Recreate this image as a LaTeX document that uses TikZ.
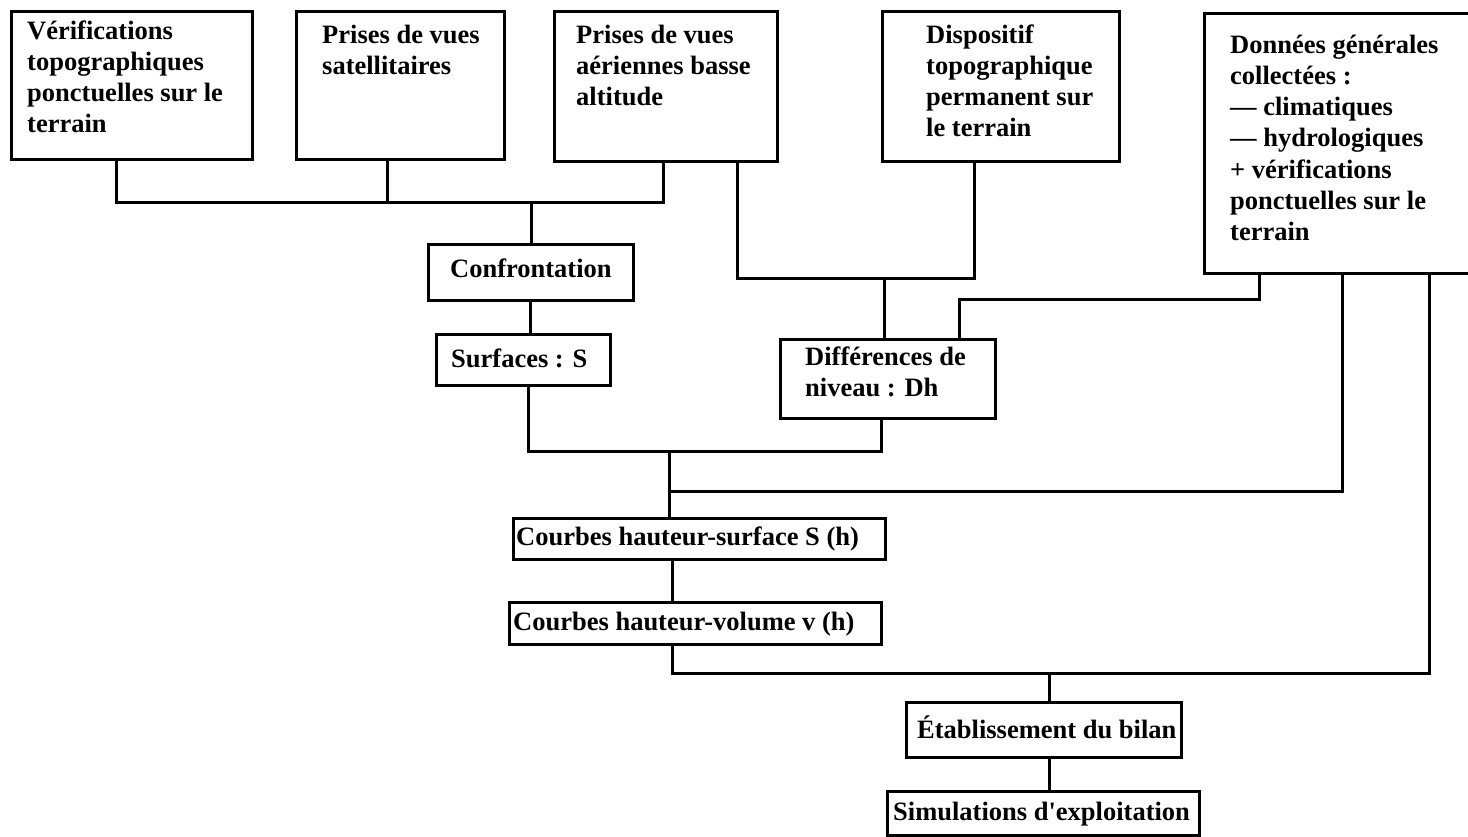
\documentclass[tikz,border=0pt]{standalone}
\usepackage{fontspec}
\setmainfont{Liberation Serif}
\begin{document}
\begin{tikzpicture}[x=1pt,y=-1pt,
  box/.style={draw, line width=3pt, rectangle, inner sep=0pt, anchor=north west},
  txt/.style={inner sep=0pt, anchor=base west, font=\fontsize{26.5}{31.3}\selectfont\bfseries},
  conn/.style={line width=3pt}]
\useasboundingbox (0,0) rectangle (1468,836);
\clip (0,0) rectangle (1468,836);
\fill[white] (0,0) rectangle (1468,836);
% boxes
\node[box, minimum width=241pt, minimum height=148pt] (A) at (10,10) {};
\node[box, minimum width=208pt, minimum height=148pt] (B) at (295,10) {};
\node[box, minimum width=223pt, minimum height=150pt] (C) at (553,10) {};
\node[box, minimum width=237pt, minimum height=150pt] (D) at (881,10) {};
\node[box, minimum width=290pt, minimum height=260pt] (E) at (1203,12) {};
\node[box, minimum width=205pt, minimum height=56pt] (F) at (427,243) {};
\node[box, minimum width=174pt, minimum height=51pt] (G) at (435,333) {};
\node[box, minimum width=215pt, minimum height=79pt] (H) at (779,338) {};
\node[box, minimum width=372pt, minimum height=41pt] (I) at (512,517) {};
\node[box, minimum width=372pt, minimum height=42pt] (J) at (508,601) {};
\node[box, minimum width=275pt, minimum height=55pt] (K) at (905,701) {};
\node[box, minimum width=312pt, minimum height=44pt] (L) at (886,790) {};
% texts
\node[txt] (At) at (27,39) {\parbox[t]{400pt}{Vérifications\\topographiques\\ponctuelles sur le\\terrain}};
\node[txt] (Bt) at (322,43) {\parbox[t]{400pt}{Prises de vues\\satellitaires}};
\node[txt] (Ct) at (576,43) {\parbox[t]{400pt}{Prises de vues\\aériennes basse\\altitude}};
\node[txt] (Dt) at (926,43) {\parbox[t]{400pt}{Dispositif\\topographique\\permanent sur\\le terrain}};
\node[txt] (Et) at (1230,53) {\parbox[t]{400pt}{Données générales\\collectées :\\— climatiques\\— hydrologiques\\+ vérifications\\ponctuelles sur le\\terrain}};
\node[txt] (Ft) at (450,277) {Confrontation};
\node[txt] (Gt) at (451,367) {Surfaces : S};
\node[txt] (Ht) at (805,365) {\parbox[t]{400pt}{Différences de\\niveau : Dh}};
\node[txt] (It) at (516,545) {Courbes hauteur-surface S (h)};
\node[txt] (Jt) at (513,630) {Courbes hauteur-volume v (h)};
\node[txt] (Kt) at (917,738) {Établissement du bilan};
\node[txt] (Lt) at (893,820) {Simulations d\textquotesingle exploitation};
% reference coordinates
\coordinate (xa) at (116,0);
\coordinate (xb) at (387,0);
\coordinate (xc) at (663,0);
\coordinate (xc2) at (737,0);
\coordinate (xd) at (974,0);
\coordinate (xe1) at (1259,0);
\coordinate (xe2) at (1342,0);
\coordinate (xe3) at (1429,0);
\coordinate (xfg) at (530,0);
\coordinate (xg) at (528,0);
\coordinate (xh) at (881,0);
\coordinate (xij) at (672,0);
\coordinate (bus1) at (531,202);
\coordinate (bus2) at (884,278);
\coordinate (bus3) at (959,299);
\coordinate (bus4) at (669,451);
\coordinate (bus5) at (669,491);
\coordinate (bus6) at (1049,673);
% connectors
\draw[conn] (A.south -| xa) |- (bus1) -| (C.south -| xc);
\draw[conn] (B.south -| xb) -- (xb |- bus1);
\draw[conn] (bus1) -- (F.north -| bus1);
\draw[conn] (C.south -| xc2) |- (bus2) -| (D.south -| xd);
\draw[conn] (bus2) -- (H.north -| bus2);
\draw[conn] (E.south -| xe1) |- (bus3) -- (H.north -| bus3);
\draw[conn] (F.south -| xfg) -- (G.north -| xfg);
\draw[conn] (G.south -| xg) |- (bus4) -| (H.south -| xh);
\draw[conn] (bus4) -- (I.north -| bus4);
\draw[conn] (E.south -| xe2) |- (bus5);
\draw[conn] (I.south -| xij) -- (J.north -| xij);
\draw[conn] (J.south -| xij) |- (bus6) -| (E.south -| xe3);
\draw[conn] (bus6) -- (K.north -| bus6);
\draw[conn] (K.south -| bus6) -- (L.north -| bus6);
\end{tikzpicture}
\end{document}
